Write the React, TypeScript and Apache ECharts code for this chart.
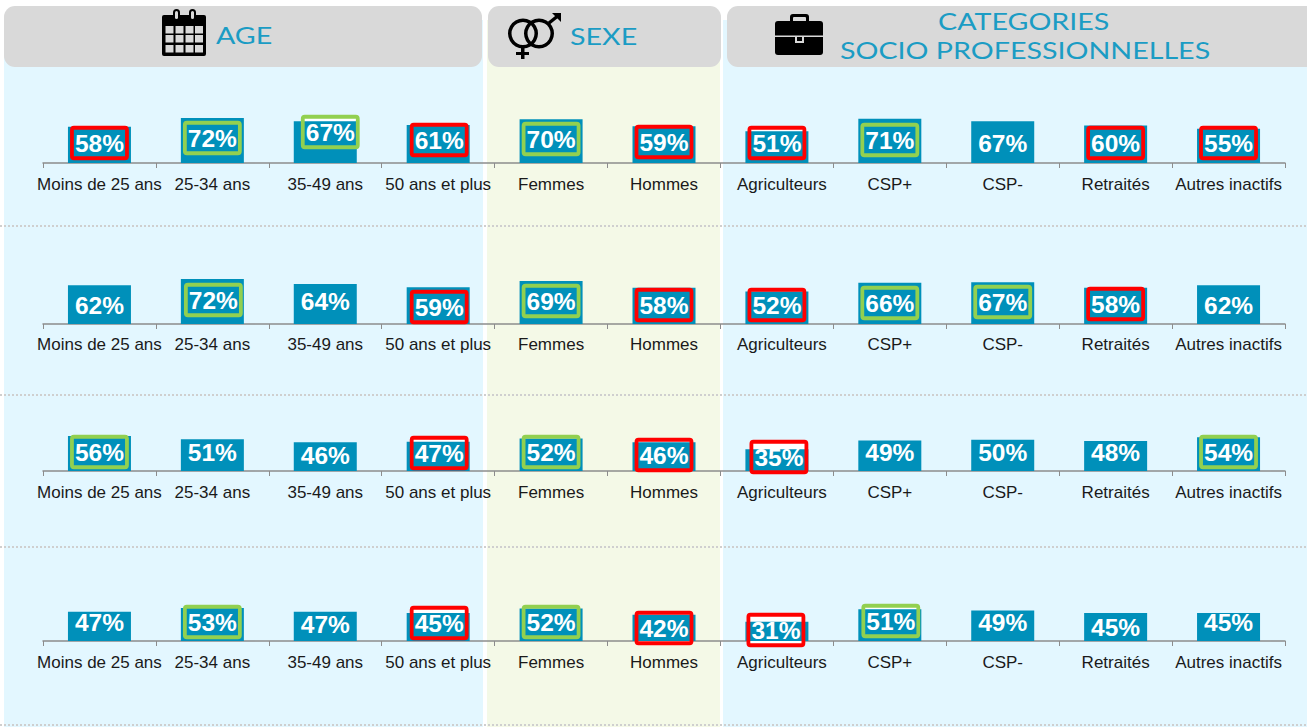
import React, { useEffect, useRef } from "react";
import * as echarts from "echarts";

const categories = ["Moins de 25 ans", "25-34 ans", "35-49 ans", "50 ans et plus", "Femmes", "Hommes", "Agriculteurs", "CSP+", "CSP-", "Retraités", "Autres inactifs"];

const row1Values = [58, 72, 67, 61, 70, 59, 51, 71, 67, 60, 55];
const row2Values = [62, 72, 64, 59, 69, 58, 52, 66, 67, 58, 62];
const row3Values = [56, 51, 46, 47, 52, 46, 35, 49, 50, 48, 54];
const row4Values = [47, 53, 47, 45, 52, 42, 31, 51, 49, 45, 45];

const row1Marks = ["R", "G", "G", "R", "G", "R", "R", "G", "", "R", "R"];
const row2Marks = ["", "G", "", "R", "G", "R", "R", "G", "G", "R", ""];
const row3Marks = ["G", "", "", "R", "G", "R", "R", "", "", "", "G"];
const row4Marks = ["", "G", "", "R", "G", "R", "R", "G", "", "", ""];

// label box placement, kept apart from the values
const row1Rise = [20, 25, 31, 23, 24, 21, 20, 23, 20, 20, 20];
const row2Rise = [19, 24, 23, 17, 23, 19, 19, 21, 22, 20, 19];
const row3Rise = [19, 19, 16, 18, 19, 16, 14, 19, 19, 19, 19];
const row4Rise = [19, 19, 17, 18, 19, 13, 11, 20, 19, 14, 19];
const row1Shift = [0, 0, 5, 1, 0, 0, 0, 0, 0, 0, 0];
const row2Shift = [0, 1, 0, 1, 0, 0, 0, 0, 0, 0, 0];
const row3Shift = [0, 0, 0, 1, 0, 0, 2, 0, 0, 0, 0];
const row4Shift = [0, 0, 0, 1, 0, 0, -1, 1, 0, 0, 0];

const rows = [
  { values: row1Values, marks: row1Marks, rise: row1Rise, shift: row1Shift, baseline: 163, labelMargin: 13 },
  { values: row2Values, marks: row2Marks, rise: row2Rise, shift: row2Shift, baseline: 324, labelMargin: 12 },
  { values: row3Values, marks: row3Marks, rise: row3Rise, shift: row3Shift, baseline: 471, labelMargin: 13 },
  { values: row4Values, marks: row4Marks, rise: row4Rise, shift: row4Shift, baseline: 641, labelMargin: 13 },
];

const BAR = "#0090BA";
const RED = "#FF0000";
const GREEN = "#92D050";
const HEAD = "#D9D9D9";
const TITLE = "#1B9CC4";
const BOX_W = 55;
const BOX_H = 30.5;
const PLOT_H = 62.5;

function buildOption() {
  const grid: any[] = [];
  const xAxis: any[] = [];
  const yAxis: any[] = [];
  const series: any[] = [];

  rows.forEach((row, r) => {
    grid.push({ left: 43, width: 1242, top: row.baseline - PLOT_H, height: PLOT_H });
    const labelFont = { fontSize: 17, color: "#1A1A1A", fontFamily: "Liberation Sans" };
    xAxis.push({
      type: "category",
      gridIndex: r,
      data: categories,
      axisLine: { lineStyle: { color: "#8C8C8C", width: 1.5 } },
      axisTick: { show: true, length: 5, lineStyle: { color: "#8C8C8C", width: 1 } },
      axisLabel: {
        interval: 0,
        hideOverlap: false,
        margin: row.labelMargin,
        ...labelFont,
        formatter: (v: string) => (v === "Agriculteurs" ? `{s|${v}}` : v),
        rich: { s: { ...labelFont, padding: [0, 0, 0, 10] } },
      },
    });
    yAxis.push({ type: "value", gridIndex: r, min: 0, max: 100, show: false });

    const boxData = (withText: boolean) =>
      row.values.map((v, i) => {
        const mark = row.marks[i];
        const border = mark === "R" ? RED : mark === "G" ? GREEN : "transparent";
        const offset = [row.shift[i], -row.rise[i]];
        const base = {
          position: "insideBottom",
          distance: 0,
          offset,
          width: BOX_W,
          height: BOX_H,
          lineHeight: BOX_H,
          align: "center",
          verticalAlign: "middle",
        };
        if (!withText) {
          return {
            value: v,
            itemStyle: { color: "transparent" },
            label: { ...base, show: !!mark, formatter: " ", backgroundColor: "#FFFFFF" },
          };
        }
        return {
          value: v,
          itemStyle: { color: "transparent" },
          label: {
            ...base,
            show: true,
            formatter: `${v}%`,
            color: "#FFFFFF",
            fontSize: 24.5,
            fontWeight: "bold",
            fontFamily: "Liberation Sans",
            borderColor: border,
            borderWidth: mark ? 3.8 : 0,
            borderRadius: 2,
          },
        };
      });

    const common = { type: "bar", xAxisIndex: r, yAxisIndex: r, barWidth: 63, barGap: "-100%", silent: true };
    series.push({ ...common, name: `fond${r}`, z: 2, data: boxData(false) });
    series.push({ ...common, name: `barres${r}`, z: 3, data: row.values, itemStyle: { color: BAR } });
    series.push({ ...common, name: `etiquettes${r}`, z: 4, data: boxData(true) });
  });

  const header = (x: number, w: number) => ({
    type: "rect",
    shape: { x, y: 6, width: w, height: 61, r: 11 },
    style: { fill: HEAD },
  });
  const title = (text: string, x: number, y: number) => ({
    type: "text",
    x,
    y,
    scaleX: 1.245,
    style: { text, fill: TITLE, fontSize: 23, fontFamily: "Lato", verticalAlign: "middle" },
  });
  const blk = (x: number, y: number, w: number, h: number, r = 0, fill = "#000") => ({
    type: "rect",
    shape: { x, y, width: w, height: h, r },
    style: { fill },
  });
  const dotted = (y: number) => ({
    type: "line",
    shape: { x1: 0, y1: y, x2: 1307, y2: y },
    style: { stroke: "#CFCFCF", lineWidth: 2, lineDash: [2, 2] },
  });

  const calendarCells: any[] = [];
  [165.5, 175.5, 185.5, 195].forEach((cx) => {
    [26, 35, 45].forEach((cy) => calendarCells.push(blk(cx, cy, 8, 7.5, 0, HEAD)));
  });

  const elements: any[] = [
    blk(4, 20, 479, 707, 0, "#E3F7FF"),
    blk(487, 20, 233, 707, 0, "#F4F9E7"),
    blk(723, 20, 584, 707, 0, "#E3F7FF"),
    dotted(226),
    dotted(395),
    dotted(547),
    dotted(725),
    header(4, 478),
    header(488, 233),
    header(727, 590),
    // calendar icon
    blk(162, 15, 44, 41, 2),
    blk(173, 9, 7, 12, 3.5),
    blk(189, 9, 7, 12, 3.5),
    blk(175, 11, 3, 8, 1.5, HEAD),
    blk(191, 11, 3, 8, 1.5, HEAD),
    ...calendarCells,
    // gender icon
    { type: "ring", shape: { cx: 523, cy: 33.5, r: 15, r0: 11.5 }, style: { fill: "#000" } },
    { type: "ring", shape: { cx: 539, cy: 33.5, r: 15, r0: 11.5 }, style: { fill: "#000" } },
    blk(521, 48, 3.5, 11, 0),
    blk(516, 52, 13, 3, 0),
    { type: "line", shape: { x1: 549, y1: 23, x2: 559, y2: 15 }, style: { stroke: "#000", lineWidth: 3.5 } },
    { type: "polygon", shape: { points: [[552, 13], [561, 13], [561, 22]] }, style: { fill: "#000" } },
    // briefcase icon
    blk(790, 14, 19, 10, 3),
    blk(793, 17, 13, 7, 1, HEAD),
    blk(775, 21, 48, 34, 3),
    blk(775, 35.5, 48, 1.5, 0, HEAD),
    blk(795, 36, 9, 7, 0, HEAD),
    blk(797, 37, 5, 4, 0),
    title("AGE", 216, 35),
    title("SEXE", 570, 36),
    title("CATEGORIES", 938, 21),
    title("SOCIO PROFESSIONNELLES", 840, 50),
  ];

  return {
    animation: false,
    backgroundColor: "#FFFFFF",
    grid,
    xAxis,
    yAxis,
    series,
    graphic: { elements: elements.map((e) => ({ ...e, z: -10, silent: true })) },
  };
}

export default function App() {
  const ref = useRef<HTMLDivElement>(null);
  useEffect(() => {
    const chart = echarts.init(ref.current!, undefined, { renderer: "svg" });
    chart.setOption(buildOption() as any);
    return () => chart.dispose();
  }, []);
  return <div ref={ref} style={{ position: "absolute", left: 0, top: 0, width: 1307, height: 727 }} />;
}
